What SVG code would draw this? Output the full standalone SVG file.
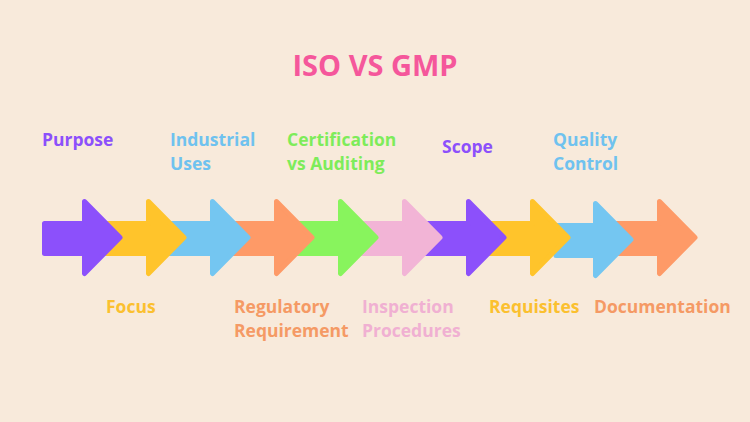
<svg xmlns="http://www.w3.org/2000/svg" width="750" height="422" viewBox="0 0 750 422">
<style>
.t{font-family:"Open Sans","Liberation Sans",sans-serif;font-weight:700;font-size:17.5px}
.a{stroke-width:5;stroke-linejoin:round}
.pu{fill:#8c50fb;stroke:#8c50fb}
.ye{fill:#ffc42b;stroke:#ffc42b}
.bl{fill:#74c6f1;stroke:#74c6f1}
.or{fill:#fe9a67;stroke:#fe9a67}
.gr{fill:#88f45d;stroke:#88f45d}
.pk{fill:#f2b4d6;stroke:#f2b4d6}
</style>
<rect width="750" height="422" fill="#f8eadb"/>
<text x="375" y="76" text-anchor="middle" font-family="Open Sans, Liberation Sans, sans-serif" font-weight="700" font-size="29" fill="#f5579b">ISO VS GMP</text>
<g id="connectors">
<polygon id="a10" class="a or" points="615,223.5 659.5,223.5 659.5,201.5 695,237.5 659.5,273.5 659.5,253.5 615,253.5"/>
<polygon id="a9" class="a bl" points="556,225.5 595.5,225.5 595.5,203.5 631,239.5 595.5,275.5 595.5,255.5 556,255.5"/>
<polygon id="a8" class="a ye" points="464.5,223.5 532.5,223.5 532.5,201.5 568,237.5 532.5,273.5 532.5,253.5 464.5,253.5"/>
<polygon id="a7" class="a pu" points="400.5,223.5 468.5,223.5 468.5,201.5 504,237.5 468.5,273.5 468.5,253.5 400.5,253.5"/>
<polygon id="a6" class="a pk" points="336.5,223.5 404.5,223.5 404.5,201.5 440,237.5 404.5,273.5 404.5,253.5 336.5,253.5"/>
<polygon id="a5" class="a gr" points="272.5,223.5 340.5,223.5 340.5,201.5 376,237.5 340.5,273.5 340.5,253.5 272.5,253.5"/>
<polygon id="a4" class="a or" points="208.5,223.5 276.5,223.5 276.5,201.5 312,237.5 276.5,273.5 276.5,253.5 208.5,253.5"/>
<polygon id="a3" class="a bl" points="144.5,223.5 212.5,223.5 212.5,201.5 248,237.5 212.5,273.5 212.5,253.5 144.5,253.5"/>
<polygon id="a2" class="a ye" points="80.5,223.5 148.5,223.5 148.5,201.5 184,237.5 148.5,273.5 148.5,253.5 80.5,253.5"/>
<polygon id="a1" class="a pu" points="44.5,223.5 84.5,223.5 84.5,201.5 120,237.5 84.5,273.5 84.5,253.5 44.5,253.5"/>
</g>
<g id="n-purpose"><text class="t" x="42" y="146" fill="#8c50fb">Purpose</text></g>
<g id="n-industrial"><text class="t" x="170" y="146" fill="#6fc2ef">Industrial<tspan x="170" y="170">Uses</tspan></text></g>
<g id="n-cert"><text class="t" x="287" y="146" fill="#7eec5a">Certification<tspan x="287" y="170">vs Auditing</tspan></text></g>
<g id="n-scope"><text class="t" x="442" y="153" fill="#8c50fb">Scope</text></g>
<g id="n-quality"><text class="t" x="553" y="146" fill="#6fc2ef">Quality<tspan x="553" y="170">Control</tspan></text></g>
<g id="n-focus"><text class="t" x="106" y="313" fill="#fbc02f">Focus</text></g>
<g id="n-reg"><text class="t" x="234" y="313" fill="#f59a65">Regulatory<tspan x="234" y="337">Requirement</tspan></text></g>
<g id="n-insp"><text class="t" x="362" y="313" fill="#f0b0d2">Inspection<tspan x="362" y="337">Procedures</tspan></text></g>
<g id="n-req"><text class="t" x="489" y="313" fill="#fbc02f">Requisites</text></g>
<g id="n-doc"><text class="t" x="594" y="313" fill="#f59a65">Documentation</text></g>
</svg>
